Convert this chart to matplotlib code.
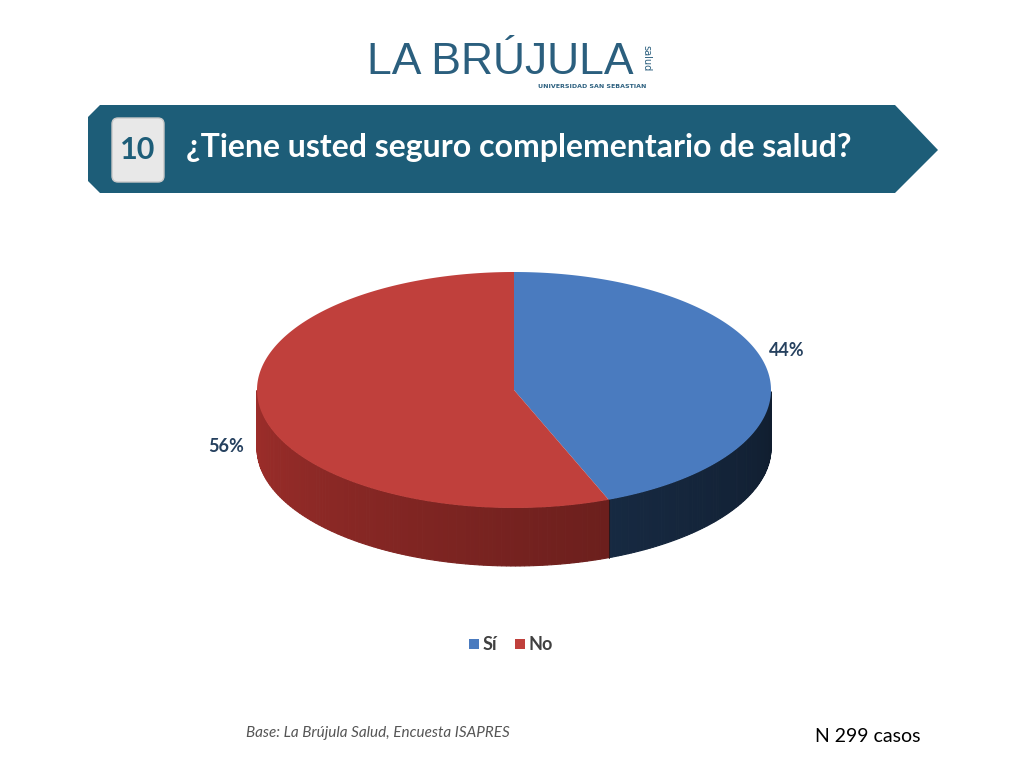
import numpy as np
import matplotlib
matplotlib.use("Agg")
import matplotlib.pyplot as plt
from matplotlib.patches import Polygon, FancyBboxPatch, Rectangle

categories = ["Sí", "No"]
values = [44, 56]
labels = ["44%", "56%"]
top_colors = ["#4a7bbf", "#c0403c"]
side_colors = ["#1d3554", "#8a2825"]

fig = plt.figure(figsize=(10.24, 7.68), dpi=100)
ax = fig.add_axes([0, 0, 1, 1])
ax.set_xlim(0, 1024); ax.set_ylim(768, 0); ax.axis("off")
FONT = "Lato"

# banner
teal = "#1d5d78"
banner = Polygon([(100, 105), (895, 105), (938, 150), (895, 193), (100, 193), (88, 181), (88, 117)],
                 closed=True, fc=teal, ec="none")
ax.add_patch(banner)
ax.add_patch(FancyBboxPatch((112, 118), 52, 64, boxstyle="round,pad=0,rounding_size=6",
                            fc="#e8e8e8", ec="#c8c8c8"))
ax.text(138, 150, "10", ha="center", va="center", fontsize=22, fontweight="bold", color=teal, family=FONT)
ax.text(186, 148, "¿Tiene usted seguro complementario de salud?", ha="left", va="center",
        fontsize=23, fontweight="bold", color="white", family=FONT)

# logo
ax.text(500, 62, "LA BRÚJULA", ha="center", va="center", fontsize=32, color="#2b5f7e", family="Liberation Sans")
ax.text(592, 86, "UNIVERSIDAD SAN SEBASTIAN", ha="center", va="center", fontsize=4.5, color="#2b5f7e", fontweight="bold")
ax.text(646, 58, "salud", ha="center", va="center", fontsize=7, color="#2b5f7e", rotation=-90)

# 3D pie
cx, cy, rx, ry, depth = 514, 390, 257, 118, 58
fr = np.array(values) / sum(values)
starts = 90 - 360 * np.concatenate([[0], np.cumsum(fr)[:-1]])
ends = starts - 360 * fr

def pt(a, dy=0):
    r = np.radians(a)
    return cx + rx * np.cos(r), cy - ry * np.sin(r) + dy

for s, e, c in zip(starts, ends, side_colors):
    angs = np.mod(np.linspace(e, s, 200), 360)
    base = np.array(matplotlib.colors.to_rgb(c))
    for a0, a1 in zip(angs[:-1], angs[1:]):
        if 180 <= a0 <= 360 and 180 <= a1 <= 360 and abs(a1 - a0) < 10:
            p0, p1 = pt(a0), pt(a1)
            shade = 1.15 - 0.6 * (a0 - 180) / 180
            col = np.clip(base * shade, 0, 1)
            ax.add_patch(Polygon([p0, p1, (p1[0], p1[1] + depth), (p0[0], p0[1] + depth)],
                                 closed=True, fc=col, ec=col, lw=0.8))
ep = pt(ends[0])
ax.plot([ep[0], ep[0]], [ep[1], ep[1] + depth], color="#2a1515", lw=0.6)

for s, e, c in zip(starts, ends, top_colors):
    angs = np.linspace(s, e, 300)
    pts = [(cx, cy)] + [pt(a) for a in angs]
    ax.add_patch(Polygon(pts, closed=True, fc=c, ec="none"))

ax.text(787, 350, labels[0], ha="center", va="center", fontsize=13, fontweight="bold", color="#26415f", family=FONT)
ax.text(226, 447, labels[1], ha="center", va="center", fontsize=13, fontweight="bold", color="#26415f", family=FONT)

lx = [476, 522]
for x, c, t in zip(lx, top_colors, categories):
    ax.add_patch(Rectangle((x - 7, 639), 10, 10, fc=c, ec="none"))
    ax.text(x + 7, 645, t, ha="left", va="center", fontsize=13, fontweight="bold", color="#404040", family=FONT)

ax.text(246, 733, "Base: La Brújula Salud, Encuesta ISAPRES", ha="left", va="center",
        fontsize=11, style="italic", color="#555555", family=FONT)
ax.text(815, 737, "N 299 casos", ha="left", va="center", fontsize=14, color="black", family=FONT)

fig.savefig("out.png", dpi=100)
